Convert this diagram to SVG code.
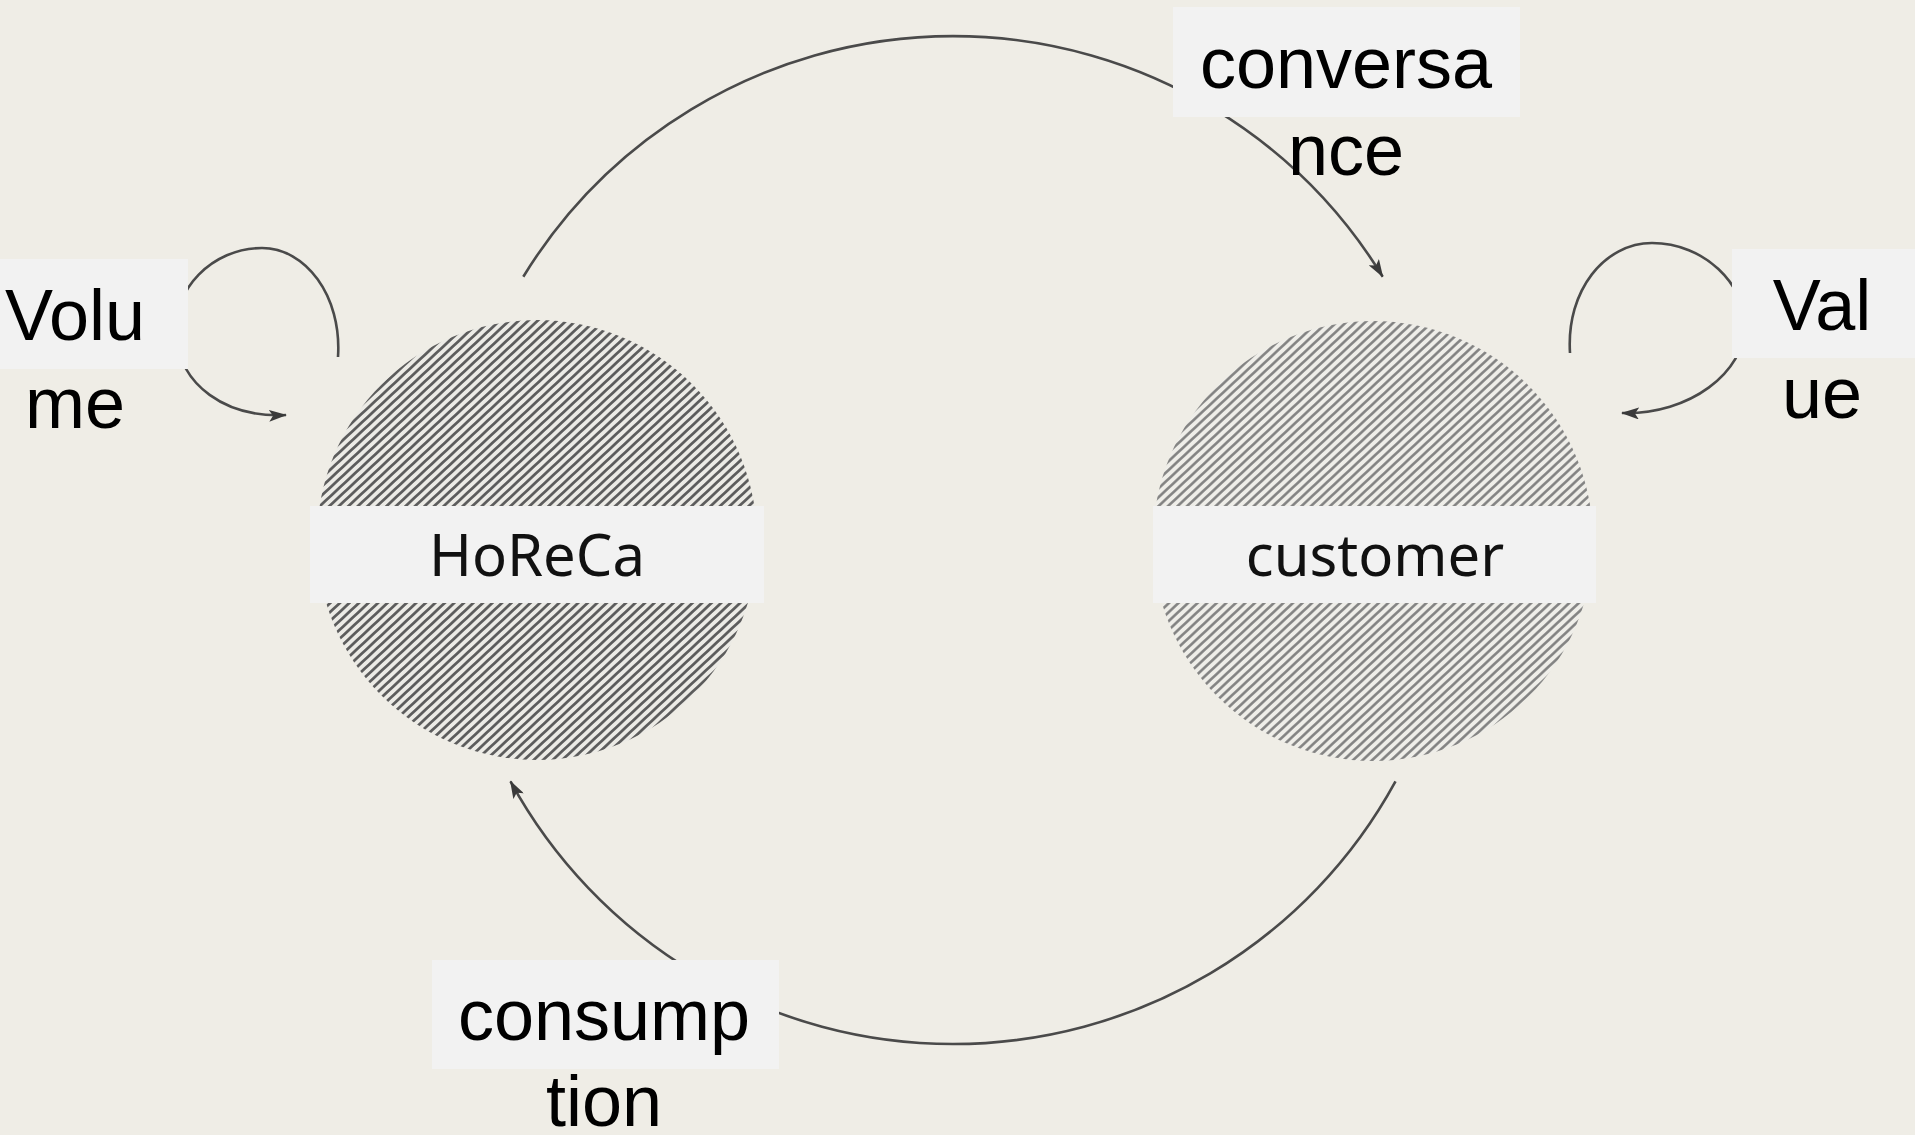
<svg xmlns="http://www.w3.org/2000/svg" width="1915" height="1135" viewBox="0 0 1915 1135">
<style>
.bg{fill:#efede6}
.band{fill:#f2f2f2}
.node-text{font-family:"Noto Sans","Open Sans",sans-serif;font-size:58px;fill:#111;text-anchor:middle}
.lbl{font-family:"Liberation Sans",Arial,sans-serif;font-size:72px;fill:#000;text-anchor:middle}
.conn{fill:none;stroke:#4a4a4a;stroke-width:2.6}
</style>
<defs>
<pattern id="hatchDark" patternUnits="userSpaceOnUse" width="6.5" height="6.5" patternTransform="rotate(-43)">
<rect width="6.5" height="6.5" fill="#ecebe6"/>
<line x1="0" y1="3.25" x2="6.5" y2="3.25" stroke="#5a5a5a" stroke-width="2.7"/>
</pattern>
<pattern id="hatchLight" patternUnits="userSpaceOnUse" width="6.5" height="6.5" patternTransform="rotate(-43)">
<rect width="6.5" height="6.5" fill="#efeee9"/>
<line x1="0" y1="3.25" x2="6.5" y2="3.25" stroke="#7e7e7e" stroke-width="2.5"/>
</pattern>
<marker id="arrow" viewBox="0 0 18 12" refX="17" refY="6" markerWidth="18" markerHeight="12" markerUnits="userSpaceOnUse" orient="auto">
<path d="M0,0 L18,6 L0,12 L4,6 Z" fill="#3a3a3a"/>
</marker>
</defs>
<rect class="bg" x="0" y="0" width="1915" height="1135"/>

<g id="connectors">
<path class="conn" d="M523.3,276.7 A504,504 0 0 1 1382.7,276.7" marker-end="url(#arrow)"/>
<path class="conn" d="M1395.5,781.3 A504,504 0 0 1 510.5,781.3" marker-end="url(#arrow)"/>
<path class="conn" d="M338,357 C342,295 305,248 262,248 C212,248 172,290 176,335 C180,385 225,418 286,415" marker-end="url(#arrow)"/>
<path class="conn" d="M1570,353 C1566,290 1605,243 1652,243 C1705,243 1745,285 1745,325 C1745,372 1690,415 1622,413" marker-end="url(#arrow)"/>
</g>

<g id="node-horeca">
<circle cx="537" cy="540" r="220" fill="url(#hatchDark)"/>
<rect class="band" x="310" y="506" width="454" height="97"/>
<text class="node-text" x="537" y="576">HoReCa</text>
</g>

<g id="node-customer">
<circle cx="1373" cy="541" r="220" fill="url(#hatchLight)"/>
<rect class="band" x="1153" y="506" width="443" height="97"/>
<text class="node-text" x="1375" y="576">customer</text>
</g>

<g id="label-volume">
<rect class="band" x="0" y="259" width="188" height="110"/>
<text class="lbl"><tspan x="75" y="340">Volu</tspan><tspan x="75" y="428">me</tspan></text>
</g>

<g id="label-value">
<rect class="band" x="1732" y="249" width="183" height="109"/>
<text class="lbl"><tspan x="1822" y="330">Val</tspan><tspan x="1822" y="418">ue</tspan></text>
</g>

<g id="label-conversance">
<rect class="band" x="1173" y="7" width="347" height="110"/>
<text class="lbl"><tspan x="1346" y="88">conversa</tspan><tspan x="1346" y="175">nce</tspan></text>
</g>

<g id="label-consumption">
<rect class="band" x="432" y="960" width="347" height="109"/>
<text class="lbl"><tspan x="604" y="1040">consump</tspan><tspan x="604" y="1126">tion</tspan></text>
</g>
</svg>
